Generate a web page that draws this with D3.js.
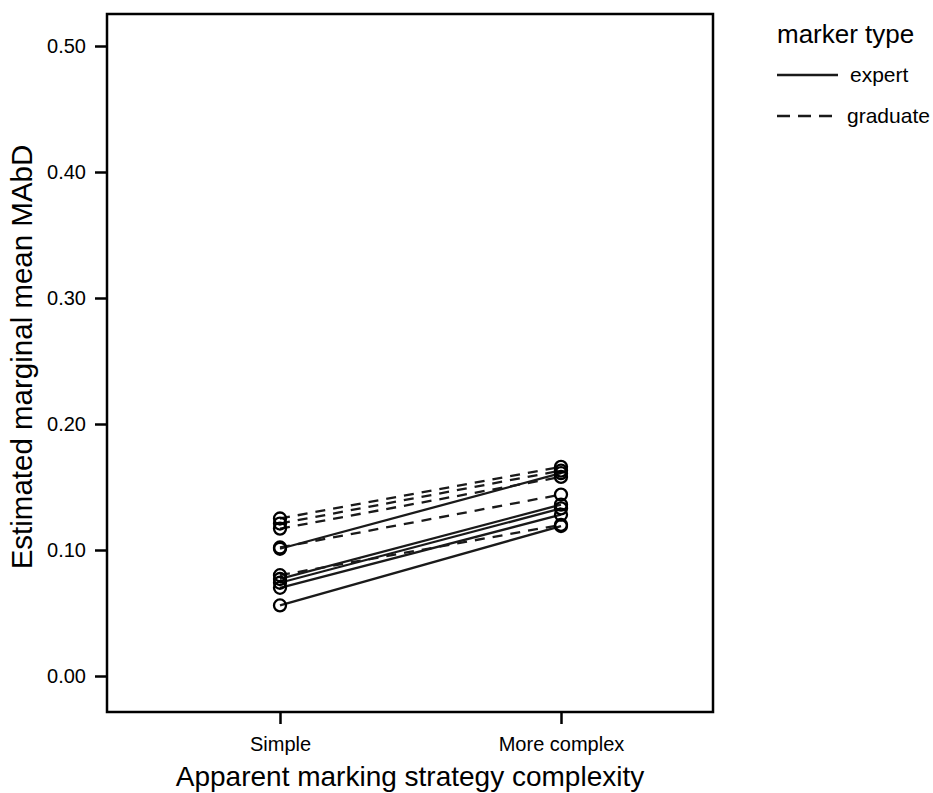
<!DOCTYPE html>
<html>
<head>
<meta charset="utf-8">
<script src="https://cdn.jsdelivr.net/npm/d3@7"></script>
<style>
  body { margin: 0; background: #fff; }
  text { font-family: "Liberation Sans", Arial, sans-serif; fill: #000; }
</style>
</head>
<body>
<div id="chart"></div>
<script>
'use strict';

var categories = ['Simple', 'More complex'];
var yTicks = [0.00, 0.10, 0.20, 0.30, 0.40, 0.50];
var groups = ['expert', 'graduate'];

// one line per marker: [simple, more complex]
var expertLines = [
    [0.101, 0.161],
    [0.077, 0.136],
    [0.074, 0.133],
    [0.070, 0.128],
    [0.056, 0.119]
];
var graduateLines = [
    [0.125, 0.166],
    [0.121, 0.163],
    [0.117, 0.158],
    [0.102, 0.144],
    [0.080, 0.120]
];

var width = 933,
    height = 793;

var frame = {left: 107, right: 713, top: 14, bottom: 712};

var svg = d3.select('#chart').append('svg')
    .attr('width', width)
    .attr('height', height);

var x = d3.scalePoint()
    .domain(categories)
    .range([280, 561]);

var y = d3.scaleLinear()
    .domain([0, 0.5])
    .range([676, 46]);

var dash = {expert: null, graduate: '10,8'};

// frame
svg.append('rect')
    .attr('x', frame.left)
    .attr('y', frame.top)
    .attr('width', frame.right - frame.left)
    .attr('height', frame.bottom - frame.top)
    .attr('fill', 'none')
    .attr('stroke', '#000')
    .attr('stroke-width', 2.5);

// y axis
var yAxis = d3.axisLeft(y)
    .tickValues(yTicks)
    .tickSize(12)
    .tickPadding(9)
    .tickFormat(d3.format('.2f'));

var gy = svg.append('g')
    .attr('transform', 'translate(' + frame.left + ',0)')
    .call(yAxis);
gy.select('.domain').remove();
gy.selectAll('line').attr('stroke', '#000').attr('stroke-width', 2.5);
gy.selectAll('text').style('font-size', '20px');

// x axis
var xAxis = d3.axisBottom(x)
    .tickSize(12)
    .tickPadding(13);

var gx = svg.append('g')
    .attr('transform', 'translate(0,' + frame.bottom + ')')
    .call(xAxis);
gx.select('.domain').remove();
gx.selectAll('line').attr('stroke', '#000').attr('stroke-width', 2.5);
gx.selectAll('text').style('font-size', '20px');

// axis titles
svg.append('text')
    .attr('x', 410)
    .attr('y', 786)
    .attr('text-anchor', 'middle')
    .style('font-size', '28px')
    .text('Apparent marking strategy complexity');

svg.append('text')
    .attr('transform', 'translate(32,357) rotate(-90)')
    .attr('text-anchor', 'middle')
    .style('font-size', '29.5px')
    .text('Estimated marginal mean MAbD');

// lines
var series = expertLines.map(function(v) { return {group: 'expert', values: v}; })
    .concat(graduateLines.map(function(v) { return {group: 'graduate', values: v}; }));

var line = d3.line()
    .x(function(d, i) { return x(categories[i]); })
    .y(function(d) { return y(d); });

var plot = svg.append('g');

plot.selectAll('path.series')
    .data(series)
    .enter()
    .append('path')
    .attr('class', 'series')
    .attr('d', function(d) { return line(d.values); })
    .attr('fill', 'none')
    .attr('stroke', '#1a1a1a')
    .attr('stroke-width', 2.3)
    .attr('stroke-dasharray', function(d) { return dash[d.group]; });

var pts = [];
series.forEach(function(s) {
    s.values.forEach(function(v, i) {
        pts.push({cat: categories[i], value: v});
    });
});

plot.selectAll('circle')
    .data(pts)
    .enter()
    .append('circle')
    .attr('cx', function(d) { return x(d.cat); })
    .attr('cy', function(d) { return y(d.value); })
    .attr('r', 6)
    .attr('fill', 'none')
    .attr('stroke', '#000')
    .attr('stroke-width', 2.3);

// legend
var legend = svg.append('g');

legend.append('text')
    .attr('x', 777)
    .attr('y', 43)
    .style('font-size', '26px')
    .text('marker type');

var items = legend.selectAll('g.item')
    .data(groups)
    .enter()
    .append('g')
    .attr('class', 'item')
    .attr('transform', function(d, i) { return 'translate(0,' + (75 + i * 41) + ')'; });

items.append('line')
    .attr('x1', 777)
    .attr('x2', 838)
    .attr('y1', 0)
    .attr('y2', 0)
    .attr('stroke', '#1a1a1a')
    .attr('stroke-width', 2.3)
    .attr('stroke-dasharray', function(d) { return d === 'graduate' ? '13,8' : null; });

items.append('text')
    .attr('x', function(d) { return d === 'graduate' ? 847 : 850; })
    .attr('y', 7)
    .style('font-size', '21px')
    .text(function(d) { return d; });
</script>
</body>
</html>
